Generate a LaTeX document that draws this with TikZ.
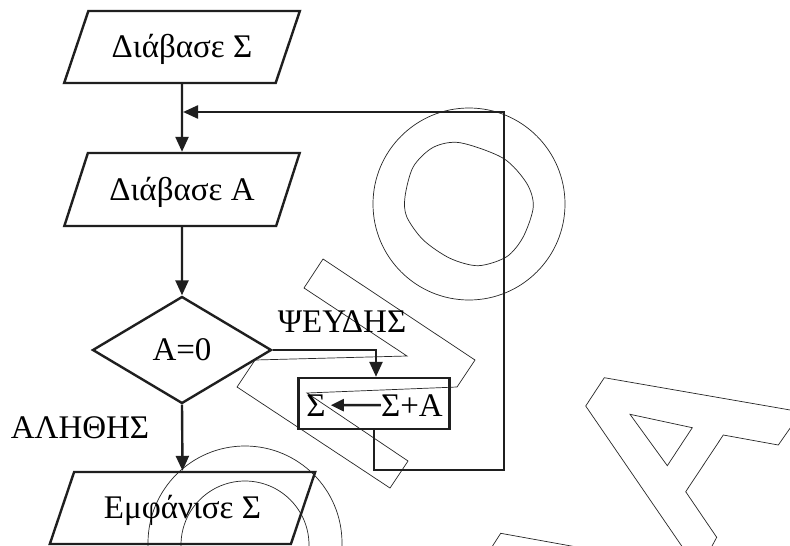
\documentclass[tikz,border=0pt]{standalone}
\usepackage{fontspec}
\setmainfont{Liberation Serif}
\usetikzlibrary{shapes.geometric,arrows.meta,calc}
\begin{document}
\begin{tikzpicture}[x=1pt,y=-1pt,
  flow/.style={line width=2.4pt, draw=black!88},
  arr/.style={flow, -{Triangle[length=15pt,width=13pt]}},
  arrs/.style={flow, -{Triangle[length=13pt,width=12pt]}},
  wm/.style={line width=0.7pt, draw=black!85},
  bigfont/.style={font=\fontsize{33}{40}\selectfont},
  txt/.style={bigfont, inner sep=0pt, text height=21.8pt, text depth=0pt},
  io/.style={flow, txt, trapezium, trapezium stretches=true,
    trapezium left angle=50.2, trapezium right angle=129.8,
    minimum width=236pt, minimum height=72pt},
  decision/.style={flow, txt, diamond, minimum width=179pt, minimum height=107pt},
  procbox/.style={flow, rectangle, inner sep=0pt, minimum width=151pt, minimum height=51pt}
]
\useasboundingbox (0,0) rectangle (790,546);
\fill[white] (0,0) rectangle (790,546);

% watermark outlines
\begin{scope}
\clip (0,0) rectangle (790,546);
\draw[wm] (323,259) -- (475,360) -- (457,387) -- (307,393) -- (408,461) -- (390,488)
  -- (237,387) -- (255,360) -- (407,356) -- (304,288) -- cycle;
\draw[wm] (469,204) circle [radius=96];
\draw[wm] plot[smooth cycle] coordinates {(460,142.7) (503.3,158.3) (526.7,183.3) (533.3,206.7)
  (523.3,236.7) (506.7,256.7) (478.3,265.7) (450,258.3) (423.3,240) (406.7,216.7)
  (405,196.7) (413.3,166.7) (433.3,147.3)};
\draw[wm] (245,543) circle [radius=97];
\draw[wm] (245,545) circle [radius=64];
\draw[wm] (800,411.7) -- (604.3,377.7) -- (585.7,406) -- (691.3,560);
\draw[wm] (704.5,560) -- (716.7,537.3) -- (685.7,491.7) -- (723.3,435) -- (778.3,445) -- (800,414);
\draw[wm] (630,414.3) -- (692.3,427.7) -- (667.3,465.7) -- cycle;
\draw[wm] (488,553) -- (500.7,533.3) -- (610,553);
\end{scope}

% flowchart
\node[io] (p1) at (182,47) {Διάβασε Σ};
\node[io, minimum height=73pt] (p2) at (182,189.5) {Διάβασε Α};
\node[decision] (d) at (182,350) {Α=0};
\node[io, minimum width=266pt, trapezium left angle=51.1, trapezium right angle=128.9] (p3) at (182.5,508) {Εμφάνισε Σ};
\node[procbox] (box) at (374,403.5) {};
\node[bigfont, inner sep=0pt, anchor=base] (s1) at (316,416) {Σ};
\node[bigfont, inner sep=0pt, anchor=base] (s2) at (412,416) {Σ+Α};
\node[txt] (ltrue) at (80,427.5) {ΑΛΗΘΗΣ};
\node[txt] (lfalse) at (342,322) {ΨΕΥΔΗΣ};

\coordinate (c1) at (504,470);
\coordinate (c2) at (504,112);

\draw[arr] (p1.south) -- (p2.north);
\draw[arr] (p2.south) -- (d.north);
\draw[arr] (d.south) -- (p3.north);
\draw[arr] (d.east) -| ([xshift=2pt]box.north);
\draw[arrs, shorten >=5pt] (s2.west) -- (s1.east);
\draw[arr, shorten >=1pt] (box.south) |- (c1) -- (c2) -- (p1.south |- c2);
\end{tikzpicture}
\end{document}
